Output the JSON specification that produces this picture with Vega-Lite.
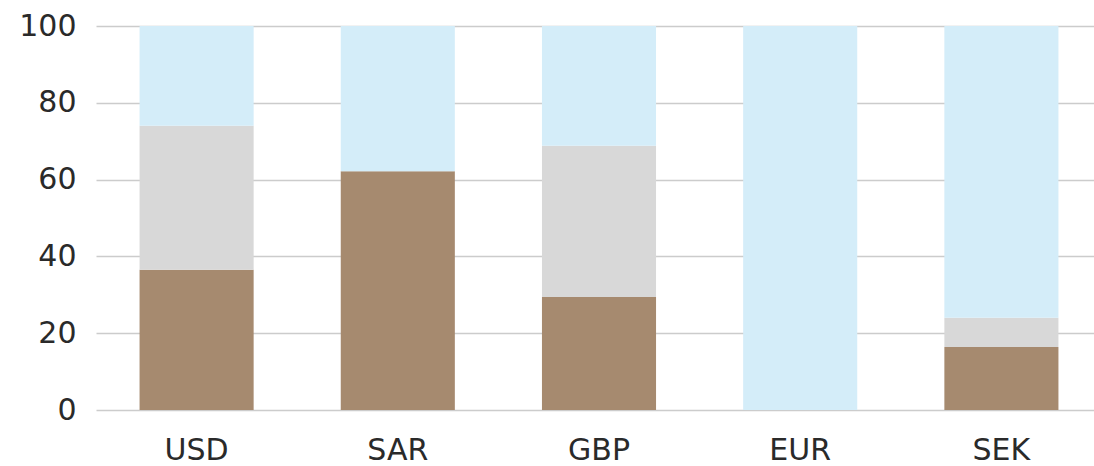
{
  "$schema": "https://vega.github.io/schema/vega-lite/v6.json",
  "autosize": {"type": "none"},
  "width": 1006,
  "height": 384,
  "padding": {"left": 96, "top": 26, "right": 0, "bottom": 56},
  "background": "white",
  "data": {
    "values": [
      {"currency": "USD", "segment": "Brown", "order": 1, "value": 36.5},
      {"currency": "USD", "segment": "Grey", "order": 2, "value": 37.5},
      {"currency": "USD", "segment": "Blue", "order": 3, "value": 26},
      {"currency": "SAR", "segment": "Brown", "order": 1, "value": 62.2},
      {"currency": "SAR", "segment": "Grey", "order": 2, "value": 0},
      {"currency": "SAR", "segment": "Blue", "order": 3, "value": 37.8},
      {"currency": "GBP", "segment": "Brown", "order": 1, "value": 29.4},
      {"currency": "GBP", "segment": "Grey", "order": 2, "value": 39.4},
      {"currency": "GBP", "segment": "Blue", "order": 3, "value": 31.2},
      {"currency": "EUR", "segment": "Brown", "order": 1, "value": 0},
      {"currency": "EUR", "segment": "Grey", "order": 2, "value": 0},
      {"currency": "EUR", "segment": "Blue", "order": 3, "value": 100},
      {"currency": "SEK", "segment": "Brown", "order": 1, "value": 16.4},
      {"currency": "SEK", "segment": "Grey", "order": 2, "value": 7.6},
      {"currency": "SEK", "segment": "Blue", "order": 3, "value": 76}
    ]
  },
  "mark": {"type": "bar"},
  "encoding": {
    "x": {
      "field": "currency",
      "type": "nominal",
      "sort": ["USD", "SAR", "GBP", "EUR", "SEK"],
      "scale": {"paddingInner": 0.433, "paddingOuter": 0.2165},
      "axis": {
        "title": null,
        "labelAngle": 0,
        "labelFont": "DejaVu Sans",
        "labelFontSize": 30,
        "labelColor": "#2a2a2a",
        "labelPadding": 25,
        "ticks": false,
        "domain": false
      }
    },
    "y": {
      "field": "value",
      "type": "quantitative",
      "stack": "zero",
      "scale": {"domain": [0, 100], "nice": false},
      "axis": {
        "title": null,
        "values": [0, 20, 40, 60, 80, 100],
        "labelFont": "DejaVu Sans",
        "labelFontSize": 30,
        "labelColor": "#2a2a2a",
        "labelPadding": 20,
        "ticks": false,
        "domain": false,
        "gridColor": "#cccccc",
        "gridWidth": 1.5
      }
    },
    "color": {
      "field": "segment",
      "type": "nominal",
      "scale": {"domain": ["Brown", "Grey", "Blue"], "range": ["#a68a6f", "#d8d8d8", "#d4edf9"]},
      "legend": null
    },
    "order": {"field": "order", "type": "quantitative"}
  },
  "config": {"view": {"stroke": null}}
}
